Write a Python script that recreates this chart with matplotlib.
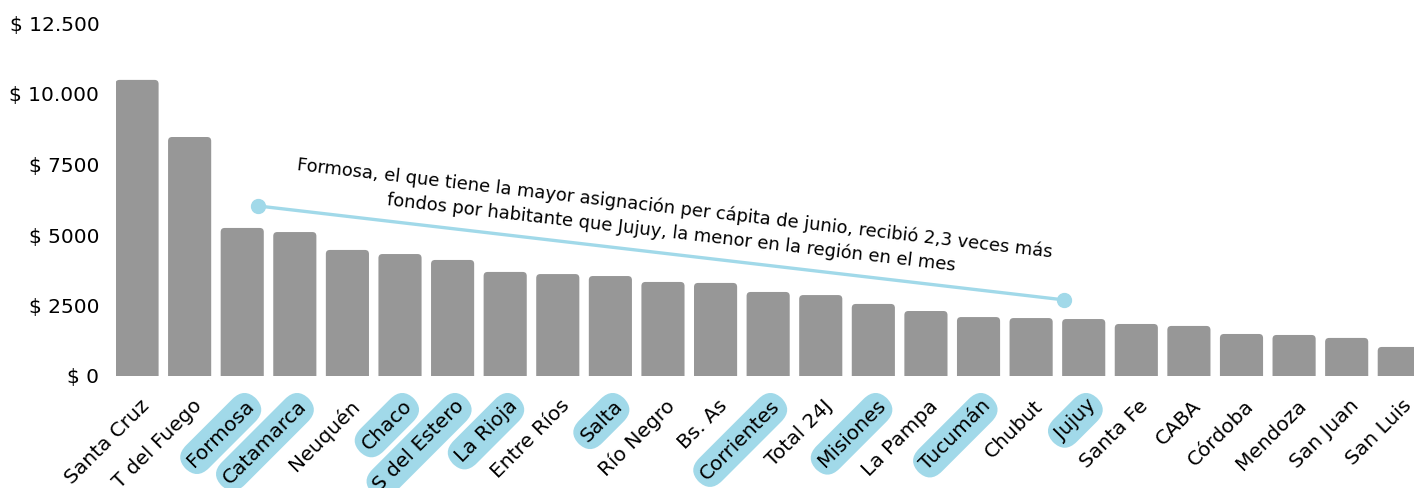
import matplotlib
matplotlib.use("Agg")
import matplotlib.pyplot as plt
from matplotlib.patches import FancyBboxPatch
from matplotlib.transforms import ScaledTranslation

provincias = ["Santa Cruz", "T del Fuego", "Formosa", "Catamarca", "Neuquén", "Chaco",
              "S del Estero", "La Rioja", "Entre Ríos", "Salta", "Río Negro", "Bs. As",
              "Corrientes", "Total 24J", "Misiones", "La Pampa", "Tucumán", "Chubut",
              "Jujuy", "Santa Fe", "CABA", "Córdoba", "Mendoza", "San Juan", "San Luis"]
valores = [10500, 8475, 5250, 5105, 4470, 4325, 4115, 3690, 3615, 3545, 3335, 3300,
           2980, 2870, 2555, 2305, 2090, 2055, 2020, 1845, 1775, 1490, 1455, 1350, 1030]
resaltadas = ["Formosa", "Catamarca", "Chaco", "S del Estero", "La Rioja", "Salta",
              "Corrientes", "Misiones", "Tucumán", "Jujuy"]
y_ticks = [0, 2500, 5000, 7500, 10000, 12500]
y_labels = ["$ 0", "$ 2500", "$ 5000", "$ 7500", "$ 10.000", "$ 12.500"]

nota = ("Formosa, el que tiene la mayor asignación per cápita de junio, recibió 2,3 veces más\n"
        "fondos por habitante que Jujuy, la menor en la región en el mes")
nota_desde = ("Formosa", 6030)
nota_hasta = ("Jujuy", 2700)

GRIS = "#979797"
CELESTE = "#a1d9e9"

W, H = 1414, 488
fig = plt.figure(figsize=(W / 100, H / 100), dpi=100)
ax = fig.add_axes([116 / W, 112 / H, (1414 - 116) / W, (376 - 23.5) / H])

x = list(range(len(provincias)))
bars = ax.bar(x, valores, width=0.82, color=GRIS)
ax.set_xlim(-0.4, 24.28)
ax.set_ylim(0, 12500)

# rounded tops
px_x = (24.28 + 0.4) / (1414 - 116)
px_y = 12500 / (376 - 23.5)
aspect = px_y / px_x
for b in bars:
    b.set_visible(False)
    p = FancyBboxPatch((b.get_x(), -8 * px_y), b.get_width(), b.get_height() + 8 * px_y,
                       boxstyle=f"round,pad=0,rounding_size={4 * px_x}",
                       mutation_aspect=aspect, fc=GRIS, ec="none", clip_on=True)
    ax.add_patch(p)

for s in ax.spines.values():
    s.set_visible(False)
ax.set_xticks([])
ax.set_yticks(y_ticks)
ax.set_yticklabels(y_labels, fontsize=14.5, color="black")
ax.tick_params(axis="y", length=0, pad=12)

trans = ax.get_xaxis_transform() + ScaledTranslation(9 / 100, -27 / 100, fig.dpi_scale_trans)
for i, name in enumerate(provincias):
    kw = {}
    if name in resaltadas:
        kw["bbox"] = dict(boxstyle="round,pad=0.33,rounding_size=0.85", fc=CELESTE, ec="none")
    ax.text(i, 0, name, transform=trans, rotation=45, rotation_mode="anchor",
            ha="right", va="center", fontsize=14.5, color="black", clip_on=False, **kw)

i0 = provincias.index(nota_desde[0])
i1 = provincias.index(nota_hasta[0])
x0 = i0 + 0.30
x1 = i1 - 0.38
ax.plot([x0, x1], [nota_desde[1], nota_hasta[1]], color=CELESTE, lw=2.4,
        marker="o", markersize=10, solid_capstyle="round", clip_on=False, zorder=3)
ax.text(10.19, 5500, nota, rotation=-6.6, rotation_mode="anchor", ha="center", va="center",
        multialignment="center", fontsize=12.9, linespacing=1.4, color="black")

fig.savefig("out.png", dpi=100)
